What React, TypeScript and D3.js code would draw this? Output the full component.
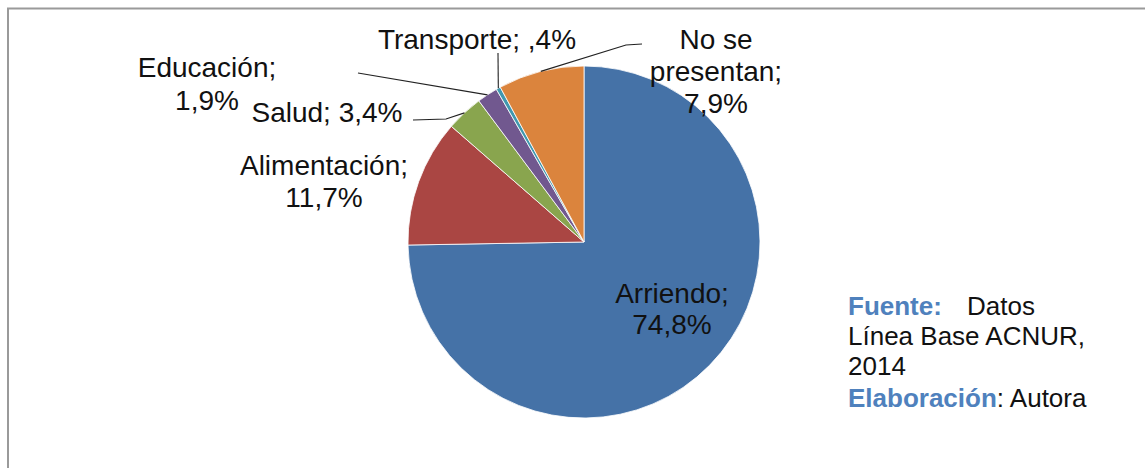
import React from "react";
import * as d3 from "d3";

const categories = ["Arriendo", "Alimentación", "Salud", "Educación", "Transporte", "No se presentan"];
const values = [74.8, 11.7, 3.4, 1.9, 0.4, 7.9];
const valueLabels = ["74,8%", "11,7%", "3,4%", "1,9%", ",4%", "7,9%"];
const colors = ["#4572A7", "#AA4643", "#89A54E", "#71588F", "#4198AF", "#DB843D"];

// label layout (positions only)
const labelLayout: Record<string, { x: number; lines: { t: string; y: number }[]; leader?: [number, number][] }> = {
  Arriendo: { x: 672, lines: [{ t: "Arriendo;", y: 303 }, { t: "74,8%", y: 334 }] },
  "Alimentación": { x: 324, lines: [{ t: "Alimentación;", y: 175 }, { t: "11,7%", y: 207 }] },
  Salud: { x: 327, lines: [{ t: "Salud; 3,4%", y: 122 }], leader: [[413, 120], [446, 119]] },
  "Educación": { x: 207, lines: [{ t: "Educación;", y: 77 }, { t: "1,9%", y: 110 }], leader: [[358, 73]] },
  Transporte: { x: 477, lines: [{ t: "Transporte; ,4%", y: 49 }], leader: [[498, 53]] },
  "No se presentan": { x: 716, lines: [{ t: "No se", y: 49 }, { t: "presentan;", y: 81 }, { t: "7,9%", y: 113 }], leader: [[642, 44], [626, 45]] },
};

const W = 1145;
const H = 468;
const cx = 584;
const cy = 242;
const R = 176;

export default function App() {
  const pie = d3.pie<number>().sort(null).value((d) => d);
  const arcs = pie(values);
  const arcGen = d3.arc<d3.PieArcDatum<number>>().innerRadius(0).outerRadius(R);
  const font = "'Liberation Sans', Arial, sans-serif";

  return (
    <svg width={W} height={H} style={{ position: "absolute", left: 0, top: 0, background: "#fff" }}>
      <rect x={0} y={0} width={W} height={H} fill="#fff" />
      <rect x={8} y={8.5} width={W + 50} height={H + 50} fill="#fff" stroke="#9a9a9a" strokeWidth={2} />
      <g transform={`translate(${cx},${cy})`}>
        {arcs.map((a, i) => (
          <path key={categories[i]} d={arcGen(a) || ""} fill={colors[i]} stroke="#fff" strokeWidth={0.8} />
        ))}
      </g>
      {arcs.map((a, i) => {
        const lay = labelLayout[categories[i]];
        if (!lay.leader) return null;
        const mid = (a.startAngle + a.endAngle) / 2;
        const px = cx + R * Math.sin(mid);
        const py = cy - R * Math.cos(mid);
        const pts = [...lay.leader, [px, py]] as [number, number][];
        const line = d3.line()(pts) || "";
        return <path key={"l" + i} d={line} fill="none" stroke="#222" strokeWidth={1.1} />;
      })}
      {categories.map((c, i) => {
        const lay = labelLayout[c];
        return (
          <text key={"t" + i} fontFamily={font} fontSize={28} fill="#111" textAnchor="middle">
            {lay.lines.map((ln, j) => (
              <tspan key={j} x={lay.x} y={ln.y}>
                {ln.t}
              </tspan>
            ))}
          </text>
        );
      })}
      <g fontFamily={font} fontSize={26} fill="#111">
        <text x={848} y={315}>
          <tspan fill="#4F81BD" fontWeight="bold">Fuente:</tspan>
          <tspan x={967}>Datos</tspan>
        </text>
        <text x={848} y={345}>Línea Base ACNUR,</text>
        <text x={848} y={375}>2014</text>
        <text x={848} y={407}>
          <tspan fill="#4F81BD" fontWeight="bold">Elaboración</tspan>
          <tspan>: Autora</tspan>
        </text>
      </g>
    </svg>
  );
}
